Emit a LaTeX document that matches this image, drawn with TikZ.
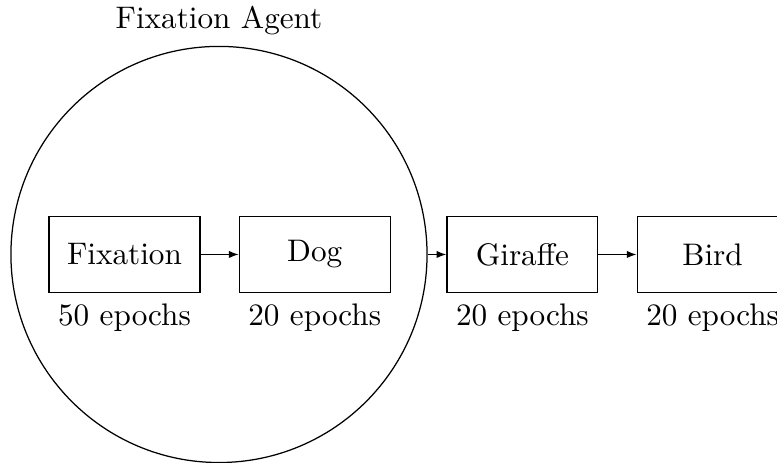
\documentclass[tikz,border=0pt]{standalone}
\usepackage{tikz}
\usetikzlibrary{positioning,arrows.meta}

\begin{document}
\begin{tikzpicture}[>={Latex[length=1.1mm]}, stage/.style={draw, minimum width=1.7cm, minimum height=0.85cm}]
	\useasboundingbox (-1.403,-2.350) rectangle (7.354,2.868);
	\node[stage] (fix) at (0,0) {Fixation};
	\node[stage, right=0.43cm of fix] (dog) {Dog};
	\node[draw, circle, minimum size=4.69cm] (agent) at (1.065,0) {};
	\node[above=0pt of agent] (agenttitle) {Fixation Agent};
	\node[stage, right=0.21cm of agent] (giraffe) {Giraffe};
	\node[stage, right=0.43cm of giraffe] (bird) {Bird};
	\node[below=0pt of fix] (fixep) {50 epochs};
	\node[below=0pt of dog] (dogep) {20 epochs};
	\node[below=0pt of giraffe] (giraffeep) {20 epochs};
	\node[below=0pt of bird] (birdep) {20 epochs};
	\draw[->] (fix) -- (dog);
	\draw[->] (agent) -- (giraffe);
	\draw[->] (giraffe) -- (bird);
\end{tikzpicture}
\end{document}
